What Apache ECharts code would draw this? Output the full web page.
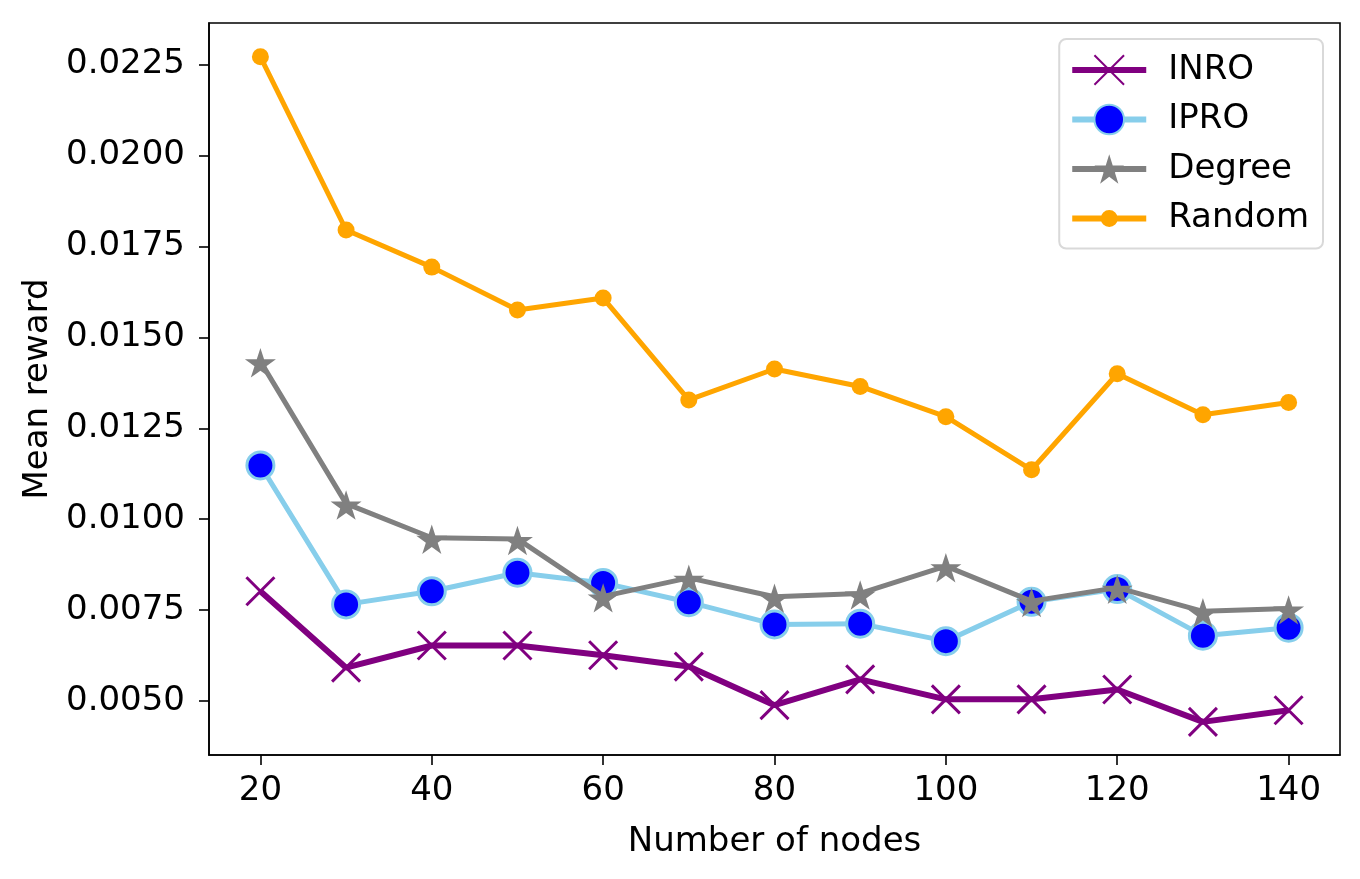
<!DOCTYPE html>
<html>
<head>
<meta charset="utf-8">
<script src="https://cdn.jsdelivr.net/npm/echarts@6/dist/echarts.min.js"></script>
<style>
  html, body { margin: 0; padding: 0; background: #fff; }
  #chart { width: 1360px; height: 879px; }
</style>
</head>
<body>
<div id="chart"></div>
<script>
// values
var nodes = [20, 30, 40, 50, 60, 70, 80, 90, 100, 110, 120, 130, 140];
var inro = [0.00802, 0.00592, 0.00653, 0.00653, 0.00626, 0.00595, 0.00489, 0.00560, 0.00505, 0.00505, 0.00532, 0.00443, 0.00475];
var ipro = [0.01148, 0.00766, 0.00802, 0.00853, 0.00825, 0.00772, 0.00711, 0.00713, 0.00665, 0.00773, 0.00808, 0.00680, 0.00702];
var degree = [0.01434, 0.01043, 0.00949, 0.00946, 0.00788, 0.00839, 0.00787, 0.00796, 0.00871, 0.00775, 0.00812, 0.00747, 0.00755];
var random = [0.02271, 0.01795, 0.01693, 0.01575, 0.01608, 0.01328, 0.01413, 0.01365, 0.01282, 0.01136, 0.01400, 0.01287, 0.01321];
var xTicks = [20, 40, 60, 80, 100, 120, 140];
var yTicks = [0.0050, 0.0075, 0.0100, 0.0125, 0.0150, 0.0175, 0.0200, 0.0225];

var font = 'DejaVu Sans';
var fs = 34;
var crossPath = 'path://M0,0L10,10M10,0L0,10';
var starPath = 'path://M100,0L122.45,69.1L195.11,69.1L136.33,111.8L158.78,180.9L100,138.2L41.22,180.9L63.67,111.8L4.89,69.1L77.55,69.1Z';
// legend icon for Random: line with a small dot (same colour, so one filled path)
var dotLineIcon = 'path://M0,12L74,12L74,18L0,18ZM28.5,15A8.5,8.5,0,1,1,45.5,15A8.5,8.5,0,1,1,28.5,15Z';

function pairs(ys) {
    return nodes.map(function (x, i) { return [x, ys[i]]; });
}

var axisLine = { show: true, onZero: false, lineStyle: { color: '#000', width: 1.6 } };

var option = {
    animation: false,
    backgroundColor: '#fff',
    textStyle: { fontFamily: font, color: '#000' },
    grid: {
        left: 209, top: 23, right: 20, bottom: 124,
        show: true, borderColor: '#000', borderWidth: 1.6, backgroundColor: 'transparent'
    },
    legend: {
        orient: 'vertical',
        right: 37,
        top: 39,
        itemWidth: 74,
        itemHeight: 37,
        itemGap: 15.5,
        padding: [14, 14, 13, 10],
        backgroundColor: '#fff',
        borderColor: '#d9d9d9',
        borderWidth: 2,
        borderRadius: 7,
        lineStyle: { width: 6 },
        textStyle: { fontFamily: font, fontSize: fs, color: '#000', lineHeight: fs, padding: [0, 0, 0, 17] },
        data: ['INRO', 'IPRO', 'Degree', { name: 'Random', icon: dotLineIcon }]
    },
    xAxis: {
        type: 'value',
        min: 14,
        max: 146,
        name: 'Number of nodes',
        nameLocation: 'middle',
        nameGap: 70,
        nameTextStyle: { fontFamily: font, fontSize: fs, color: '#000' },
        axisLine: axisLine,
        axisTick: { show: true, length: 10, customValues: xTicks, lineStyle: { color: '#000', width: 1.6 } },
        axisLabel: { customValues: xTicks, margin: 19, fontFamily: font, fontSize: fs, color: '#000' },
        splitLine: { show: false }
    },
    yAxis: {
        type: 'value',
        min: 0.00352,
        max: 0.02364,
        name: 'Mean reward',
        nameLocation: 'middle',
        nameRotate: 90,
        nameGap: 154,
        nameTextStyle: { fontFamily: font, fontSize: fs, color: '#000' },
        axisLine: axisLine,
        axisTick: { show: true, length: 10, customValues: yTicks, lineStyle: { color: '#000', width: 1.6 } },
        axisLabel: {
            customValues: yTicks,
            margin: 24,
            fontFamily: font, fontSize: fs, color: '#000',
            formatter: function (v) { return v.toFixed(4); }
        },
        splitLine: { show: false }
    },
    series: [
        {
            name: 'INRO',
            type: 'line',
            z: 2,
            data: pairs(inro),
            symbol: crossPath,
            symbolSize: 28,
            lineStyle: { color: '#800080', width: 6 },
            itemStyle: { color: '#800080', borderColor: '#800080', borderWidth: 3 }
        },
        {
            name: 'IPRO',
            type: 'line',
            z: 3,
            data: pairs(ipro),
            symbol: 'circle',
            symbolSize: 27,
            lineStyle: { color: '#87ceeb', width: 5 },
            itemStyle: { color: '#0000ff', borderColor: '#87ceeb', borderWidth: 3 }
        },
        {
            name: 'Degree',
            type: 'line',
            z: 4,
            data: pairs(degree),
            symbol: starPath,
            symbolKeepAspect: true,
            symbolSize: 31,
            symbolOffset: [0, 1.5],
            lineStyle: { color: '#808080', width: 5 },
            itemStyle: { color: '#808080', borderWidth: 0 }
        },
        {
            name: 'Random',
            type: 'line',
            z: 5,
            data: pairs(random),
            symbol: 'circle',
            symbolSize: 17,
            lineStyle: { color: '#ffa500', width: 5 },
            itemStyle: { color: '#ffa500', borderWidth: 0 }
        }
    ]
};

echarts.init(document.getElementById('chart')).setOption(option);
</script>
</body>
</html>
